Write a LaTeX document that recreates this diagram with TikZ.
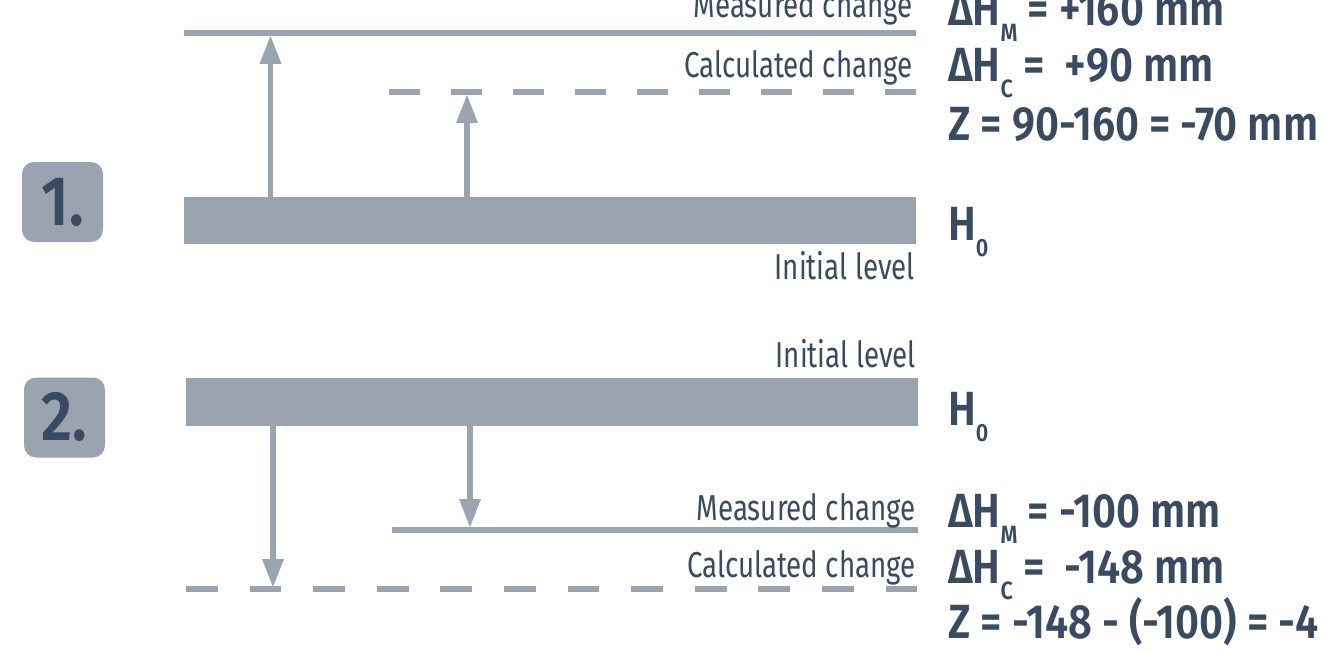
\documentclass[tikz,border=0pt]{standalone}
\usepackage{fontspec}
\setmainfont{Fira Sans}[FakeStretch=0.77, BoldFont={Fira Sans SemiBold}, BoldFeatures={FakeStretch=0.865}]
\usetikzlibrary{arrows.meta}

\definecolor{barcol}{HTML}{9AA3AF}
\definecolor{inkcol}{HTML}{3A4A60}

% subscript set lower and smaller than the main text (no extra depth)
\newcommand\lvlsub[1]{\raisebox{-16pt}[0pt][0pt]{\fontsize{25}{25}\selectfont #1}}

\tikzset{
  levelbar/.style={fill=barcol, draw=none, inner sep=0pt, anchor=north west},
  levelline/.style={draw=barcol, line width=5.5pt},
  calcline/.style={draw=barcol, line width=5.5pt},
  arr/.style={draw=barcol, line width=5.5pt,
    -{Triangle[width=22pt,length=28pt,line width=0pt]}},
  lab/.style={anchor=base east, inner sep=0pt, text=inkcol,
    font=\fontsize{36}{40}\selectfont},
  val/.style={anchor=base west, inner sep=0pt, text=inkcol,
    font=\fontsize{48}{52}\selectfont\bfseries},
  numbox/.style={fill=barcol, rounded corners=12pt, minimum width=81pt,
    minimum height=80pt, inner sep=0pt, text=inkcol,
    font=\fontsize{70}{74}\selectfont\bfseries},
}

\begin{document}
\begin{tikzpicture}[x=1pt, y=-1pt]
\useasboundingbox (0,0) rectangle (1321,650);

% ---------- case 1: rise ----------
\node[numbox] (n1) at (62.5,202) {1.};
\node[levelbar, minimum width=732pt, minimum height=47pt] (bar1) at (184,197) {};
\coordinate (m1l) at (184,33);  \coordinate (m1r) at (916,33);
\coordinate (c1l) at (389,92);  \coordinate (c1r) at (916,92);
\draw[levelline] (m1l) -- (m1r);
\draw[calcline, dash pattern=on 31pt off 31pt] (c1l) -- (c1r);
\coordinate (a1) at (270.5,36);
\coordinate (a2) at (467,95);
\draw[arr] (a1 |- bar1.north) -- (a1);
\draw[arr] (a2 |- bar1.north) -- (a2);

\node[lab] (l1m) at (913,18) {Measured change};
\node[lab] (l1c) at (913,78) {Calculated change};
\node[lab] (l1i) at (915,279) {Initial level};

\node[val] (v1m) at (948,26) {ΔH\lvlsub{M} = +160 mm};
\node[val] (v1c) at (948,82) {ΔH\lvlsub{C} = \ +90 mm};
\node[val] (v1z) at (948,140) {Z = 90-160 = -70 mm};
\node[val] (v1h) at (948,240) {H\lvlsub{0}};

% ---------- case 2: fall ----------
\node[numbox] (n2) at (64.5,417.5) {2.};
\node[levelbar, minimum width=732pt, minimum height=48pt] (bar2) at (186,378) {};
\coordinate (m2l) at (392,530);  \coordinate (m2r) at (918,530);
\coordinate (c2l) at (186,589);  \coordinate (c2r) at (918,589);
\draw[levelline] (m2l) -- (m2r);
\draw[calcline, dash pattern=on 31.8pt off 31.8pt] (c2l) -- (c2r);
\coordinate (a3) at (273,587);
\coordinate (a4) at (470,527);
\draw[arr] (a3 |- bar2.south) -- (a3);
\draw[arr] (a4 |- bar2.south) -- (a4);

\node[lab] (l2i) at (916,367) {Initial level};
\node[lab] (l2m) at (916,520) {Measured change};
\node[lab] (l2c) at (916,577) {Calculated change};

\node[val] (v2h) at (948,425) {H\lvlsub{0}};
\node[val] (v2m) at (948,527) {ΔH\lvlsub{M} = -100 mm};
\node[val] (v2c) at (948,583) {ΔH\lvlsub{C} = \ -148 mm};
\node[val] (v2z) at (948,638) {Z = -148 - (-100) = -4};
\end{tikzpicture}
\end{document}
